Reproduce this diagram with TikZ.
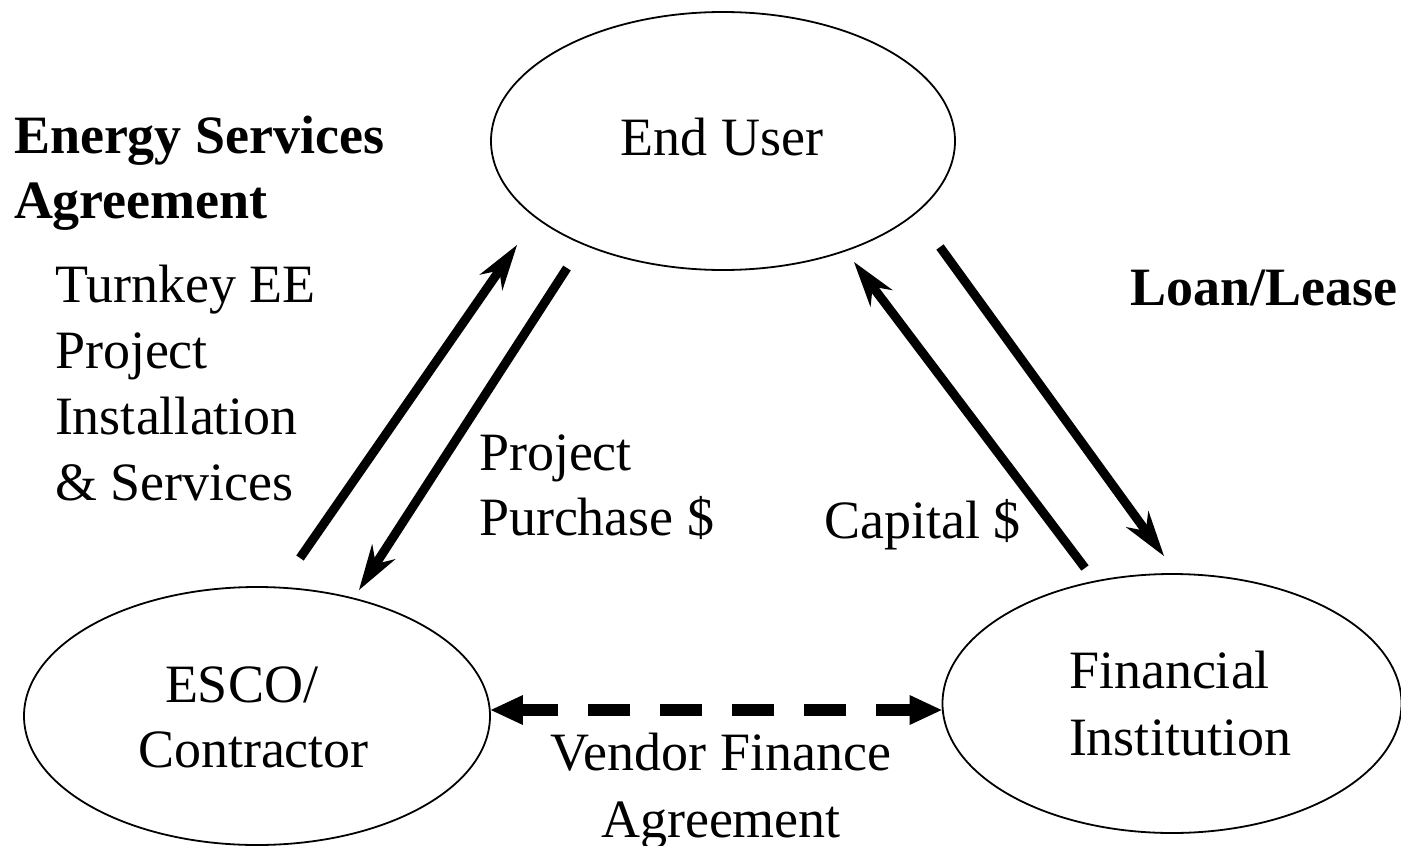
\documentclass[tikz,border=0pt]{standalone}
\usepackage{fontspec}
\setmainfont{Liberation Serif}
\usetikzlibrary{arrows.meta,shapes.geometric,calc}
\begin{document}
\begin{tikzpicture}[x=1pt,y=-1pt,
  ell/.style={draw, ellipse, line width=1.8pt, inner sep=0pt},
  txt/.style={inner sep=0pt, outer sep=0pt, font=\fontsize{54}{65}\selectfont},
  boldtxt/.style={txt, font=\fontsize{54}{65}\selectfont\bfseries},
  flow/.style={line width=9pt, line cap=butt, -{Stealth[length=46pt,width=28pt,inset=15pt,line width=0pt]}},
  vend/.style={line width=12pt, dash pattern=on 42pt off 30pt, dash phase=7pt,
    {Triangle[length=32pt,width=30pt,line width=0pt]}-{Triangle[length=32pt,width=30pt,line width=0pt]}}
]
\useasboundingbox (0,0) rectangle (1401,846);

% ellipses
\node[ell, minimum width=464pt, minimum height=258pt] (eu) at (723,141) {};
\node[ell, minimum width=466pt, minimum height=258pt] (esco) at (257,716) {};
\node[ell, minimum width=459pt, minimum height=259pt] (fi) at (1172,703.5) {};

% ellipse texts (base anchor = baseline of the last line)
\node[txt, anchor=base] (eut) at (722,155) {End User};
\node[txt, anchor=base west, align=left] (escot) at (138,767) {\hspace*{27pt}ESCO/\\Contractor};
\node[txt, anchor=base west, align=left, font=\fontsize{54}{67}\selectfont] (fit) at (1069,755) {Financial\\Institution};

% other labels
\node[boldtxt, anchor=base west, align=left] (esa) at (14,218) {Energy Services\\Agreement};
\node[txt, anchor=base west, align=left, font=\fontsize{54}{65.7}\selectfont] (tk) at (55,500) {Turnkey EE\\Project\\Installation\\\& Services};
\node[boldtxt, anchor=base west] (ll) at (1130,305) {Loan/Lease};
\node[txt, anchor=base west, align=left] (pp) at (479,535) {Project\\Purchase \$};
\node[txt, anchor=base west] (cap) at (824,538) {Capital \$};
\node[txt, anchor=base, align=center, font=\fontsize{54}{67}\selectfont] (vfa) at (721,837) {Vendor Finance\\Agreement};

% arrow end points
\coordinate (a1s) at (300,558); \coordinate (a1e) at (517,245);
\coordinate (a2s) at (567,268); \coordinate (a2e) at (359,590);
\coordinate (a3s) at (1085,568); \coordinate (a3e) at (854,262);
\coordinate (a4s) at (940,247); \coordinate (a4e) at (1164,556);

\draw[flow] (a1s) -- (a1e);
\draw[flow] (a2s) -- (a2e);
\draw[flow] (a3s) -- (a3e);
\draw[flow] (a4s) -- (a4e);

\draw[vend] ($(esco.east)+(0,-6)$) -- ($(fi.west)+(0,6.5)$);
\end{tikzpicture}
\end{document}
